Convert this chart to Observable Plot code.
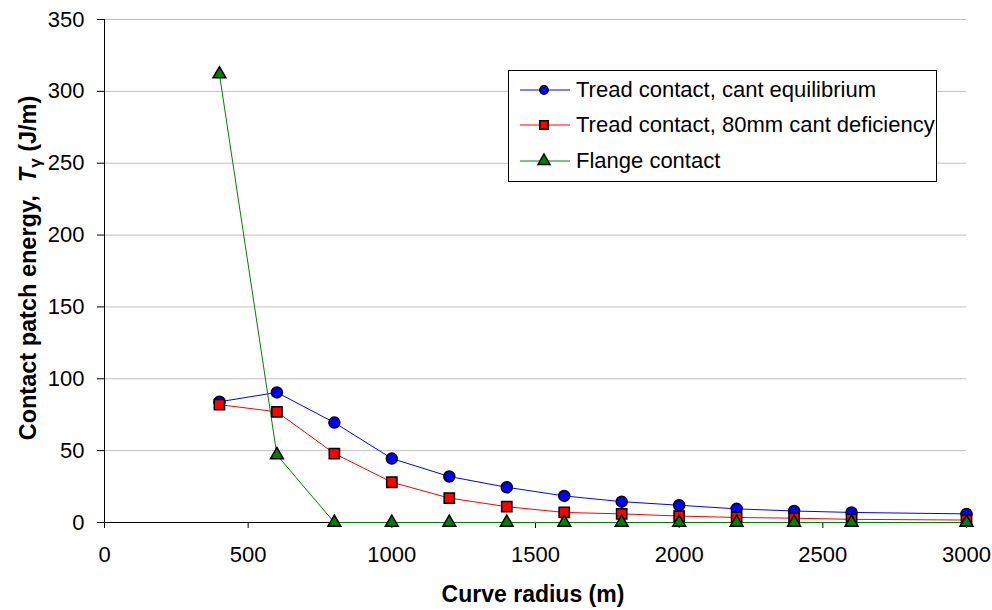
<!DOCTYPE html>
<html>
<head>
<meta charset="utf-8">
<script src="https://cdn.jsdelivr.net/npm/d3@7"></script>
<script src="https://cdn.jsdelivr.net/npm/@observablehq/plot@0.6"></script>
<style>
  body { margin: 0; background: #fff; }
  #wrap { position: relative; width: 992px; height: 610px; font-family: "Liberation Sans", Arial, sans-serif; }
  #legend { position: absolute; left: 508px; top: 70px; width: 429px; height: 112px; border: 1px solid #000; background: #fff; box-sizing: border-box; }
  .row { position: absolute; left: 0; height: 30px; display: flex; align-items: center; font-size: 22px; color: #000; white-space: nowrap; }
  .row svg { margin-left: 11px; margin-right: 6px; }
</style>
</head>
<body>
<div id="wrap"></div>
<script>
const radius = [400, 600, 800, 1000, 1200, 1400, 1600, 1800, 2000, 2200, 2400, 2600, 3000];
const treadEquilibrium = [84, 90.5, 69.5, 44.5, 32, 24.5, 18.5, 14.5, 12, 9.5, 8, 7, 6];
const treadDeficiency = [82, 77, 48, 28, 17, 11, 7, 6, 4.5, 3.5, 3, 2.2, 1.7];
const flangeContact = [312, 47, 0, 0, 0, 0, 0, 0, 0, 0, 0, 0, 0];
const seriesNames = ["Tread contact, cant equilibrium", "Tread contact, 80mm cant deficiency", "Flange contact"];
const seriesColors = ["#0000ff", "#ff0000", "#008000"];
const seriesSymbols = ["circle", "square", "triangle"];
const xTicks = [0, 500, 1000, 1500, 2000, 2500, 3000];
const yTicks = [0, 50, 100, 150, 200, 250, 300, 350];

const seriesValues = [treadEquilibrium, treadDeficiency, flangeContact];
const data = seriesValues.flatMap((vals, s) => vals.map((v, i) => ({ series: seriesNames[s], x: radius[i], y: v })));

const marks = [
  Plot.gridY(yTicks.filter(d => d > 0), { stroke: "#c0c0c0", strokeOpacity: 1, strokeWidth: 1 }),
  Plot.ruleY([0], { stroke: "#000" }),
  Plot.ruleX([0], { stroke: "#000" }),
  Plot.axisX(xTicks, { tickSize: 6, tickPadding: 18, label: null, fontSize: 22, tickFormat: d => String(d) }),
  Plot.axisY(yTicks, { tickSize: 7, tickPadding: 13, label: null, fontSize: 22, tickFormat: d => String(d) })
];
seriesNames.forEach((name, s) => {
  const d = data.filter(r => r.series === name);
  marks.push(Plot.line(d, { x: "x", y: "y", stroke: seriesColors[s], strokeWidth: 1 }));
});
seriesNames.forEach((name, s) => {
  const d = data.filter(r => r.series === name);
  marks.push(Plot.dot(d, { x: "x", y: "y", symbol: () => seriesSymbols[s], fill: seriesColors[s], stroke: "#000", strokeWidth: 1.5, r: s === 0 ? 5.5 : (s === 1 ? 5.8 : 4.8) }));
});

const chart = Plot.plot({
  width: 992,
  height: 610,
  marginLeft: 104,
  marginRight: 26,
  marginTop: 19,
  marginBottom: 88,
  style: { fontFamily: "Liberation Sans, Arial, sans-serif", fontSize: "22px", color: "#000", background: "#fff" },
  x: { domain: [0, 3000] },
  y: { domain: [0, 350] },
  symbol: { type: "identity" },
  marks
});

const svg = d3.select(chart);
svg.append("text")
  .attr("x", 533).attr("y", 602)
  .attr("text-anchor", "middle")
  .attr("font-weight", "bold").attr("font-size", 23)
  .attr("fill", "#000")
  .text("Curve radius (m)");
const yt = svg.append("text")
  .attr("transform", "translate(36,268) rotate(-90)")
  .attr("text-anchor", "middle")
  .attr("font-weight", "bold").attr("font-size", 23.5)
  .attr("fill", "#000");
yt.append("tspan").text("Contact patch energy,\u00a0\u00a0");
yt.append("tspan").attr("font-style", "italic").text("T");
yt.append("tspan").attr("font-size", 17).attr("dy", 5).text("\u03b3");
yt.append("tspan").attr("dy", -5).text(" (J/m)");

document.getElementById("wrap").appendChild(chart);

// legend
const legend = document.createElement("div");
legend.id = "legend";
const rowTops = [4, 39, 75];
seriesNames.forEach((name, s) => {
  const row = document.createElement("div");
  row.className = "row";
  row.style.top = rowTops[s] + "px";
  const sym = d3.create("svg").attr("width", 50).attr("height", 20);
  sym.append("line").attr("x1", 0).attr("x2", 50).attr("y1", 10).attr("y2", 10).attr("stroke", seriesColors[s]).attr("stroke-width", 1);
  const shape = d3.symbol().type(s === 0 ? d3.symbolCircle : s === 1 ? d3.symbolSquare : d3.symbolTriangle)
    .size(s === 0 ? 55 : s === 1 ? 70 : 62);
  sym.append("path").attr("d", shape()).attr("transform", "translate(24,10)")
    .attr("fill", seriesColors[s]).attr("stroke", "#000").attr("stroke-width", 1.5);
  row.appendChild(sym.node());
  const t = document.createElement("span");
  t.textContent = name;
  row.appendChild(t);
  legend.appendChild(row);
});
document.getElementById("wrap").appendChild(legend);
</script>
</body>
</html>
